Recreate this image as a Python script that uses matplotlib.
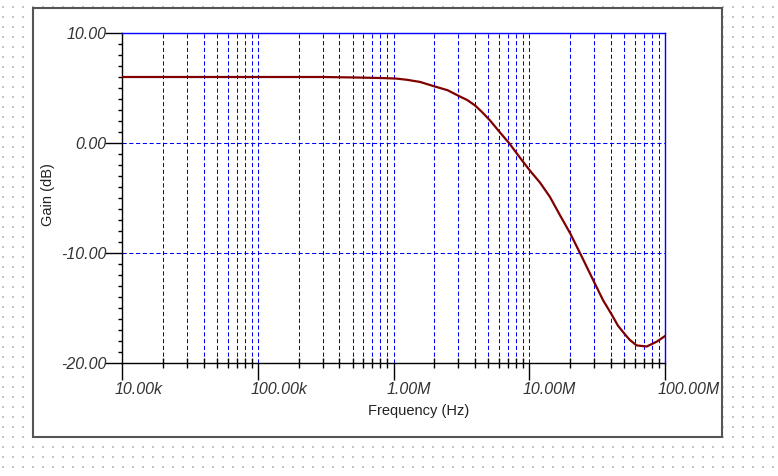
import numpy as np
import matplotlib
matplotlib.use("Agg")
import matplotlib.pyplot as plt
import matplotlib.transforms as mtransforms
from matplotlib.patches import Rectangle
from matplotlib.ticker import LogLocator, MultipleLocator, NullFormatter

# frequency response
freq_hz = [1e4, 1e5, 3e5, 5e5, 8e5, 1.04e6, 1.25e6, 1.57e6, 2.0e6, 2.5e6, 3.0e6,
           3.5e6, 4.0e6, 4.5e6, 5.14e6, 6.0e6, 7.2e6, 8.5e6, 1.01e7, 1.2e7, 1.42e7,
           1.69e7, 2.0e7, 2.43e7, 3.05e7, 3.5e7, 4.05e7, 4.5e7, 5.07e7, 5.5e7,
           6.18e7, 7.33e7, 8.69e7, 1e8]
gain_db = [6.0, 6.0, 6.0, 5.96, 5.91, 5.86, 5.75, 5.55, 5.15, 4.8, 4.3,
           3.9, 3.4, 2.8, 2.05, 1.05, -0.1, -1.3, -2.5, -3.6, -4.9,
           -6.6, -8.2, -10.3, -12.8, -14.3, -15.6, -16.6, -17.4, -17.9,
           -18.4, -18.5, -18.06, -17.55]

x_ticks = [1e4, 1e5, 1e6, 1e7, 1e8]
x_labels = ["10.00k", "100.00k", "1.00M", "10.00M", "100.00M"]
y_ticks = [-20, -10, 0, 10]
y_labels = ["-20.00", "-10.00", "0.00", "10.00"]

plt.rcParams["grid.color"] = "#0000ff"
plt.rcParams["grid.linewidth"] = 0.75
plt.rcParams["grid.alpha"] = 1.0

W, H = 778, 476
fig = plt.figure(figsize=(W / 100, H / 100), dpi=100)

# dotted background + white panel
bg = fig.add_axes([0, 0, 1, 1])
bg.set_xlim(0, W)
bg.set_ylim(H, 0)
bg.axis("off")
gx, gy = np.meshgrid(np.arange(3, W, 10), np.arange(7, H, 10))
bg.scatter(gx.ravel(), gy.ravel(), s=0.6, color="#c4c4c4", marker="s", linewidths=0)
bg.add_patch(Rectangle((33, 8), 689, 429, facecolor="white", edgecolor="#555555", lw=1.5))

ax = fig.add_axes([122 / W, 1 - 363 / H, 543 / W, 330 / H])
ax.set_xscale("log")
ax.set_xlim(1e4, 1e8)
ax.set_ylim(-20, 10)

ax.plot(freq_hz, gain_db, color="#800000", lw=1.6, zorder=3)

ax.set_xticks(x_ticks)
ax.set_xticklabels([])
ax.xaxis.set_minor_locator(LogLocator(base=10, subs=np.arange(2, 10)))
ax.xaxis.set_minor_formatter(NullFormatter())
ax.set_yticks(y_ticks)
ax.set_yticklabels(y_labels)
ax.yaxis.set_minor_locator(MultipleLocator(1))

ax.tick_params(axis="x", which="major", direction="out", length=12, width=1, pad=3)
ax.tick_params(axis="x", which="minor", direction="inout", length=7, width=1)
ax.tick_params(axis="y", which="major", direction="out", length=12, width=1, pad=-1)
ax.tick_params(axis="y", which="minor", direction="out", length=3, width=1)

tick_font = dict(family="Liberation Sans", style="italic", size=11.5, color="#333333")
for lab in ax.get_yticklabels():
    lab.set(**tick_font)

# x labels sit left-aligned just before their tick
shift = mtransforms.ScaledTranslation(-7 / 100, -19 / 100, fig.dpi_scale_trans)
for xv, txt in zip(x_ticks, x_labels):
    ax.text(xv, 0, txt, transform=ax.get_xaxis_transform() + shift,
            ha="left", va="top", clip_on=False, **tick_font)

dash = (0, (4, 2.5))
ax.grid(True, which="both", axis="x", color="#0000ff", lw=0.75, linestyle=dash)
ax.grid(True, which="major", axis="y", color="#0000ff", lw=0.75, linestyle=dash)

ax.spines["top"].set_color("#0000ff")
ax.spines["right"].set_color("#0000ff")
ax.spines["left"].set_color("black")
ax.spines["bottom"].set_color("black")
for s in ax.spines.values():
    s.set_linewidth(1)

fig.text(419 / W, 1 - 411 / H, "Frequency (Hz)", ha="center", va="center",
         family="Liberation Sans", size=10.5, color="#222222")
fig.text(48 / W, 1 - 195 / H, "Gain (dB)", ha="center", va="center", rotation=90,
         family="Liberation Sans", size=10.5, color="#222222")

fig.savefig("out.png", dpi=100)
